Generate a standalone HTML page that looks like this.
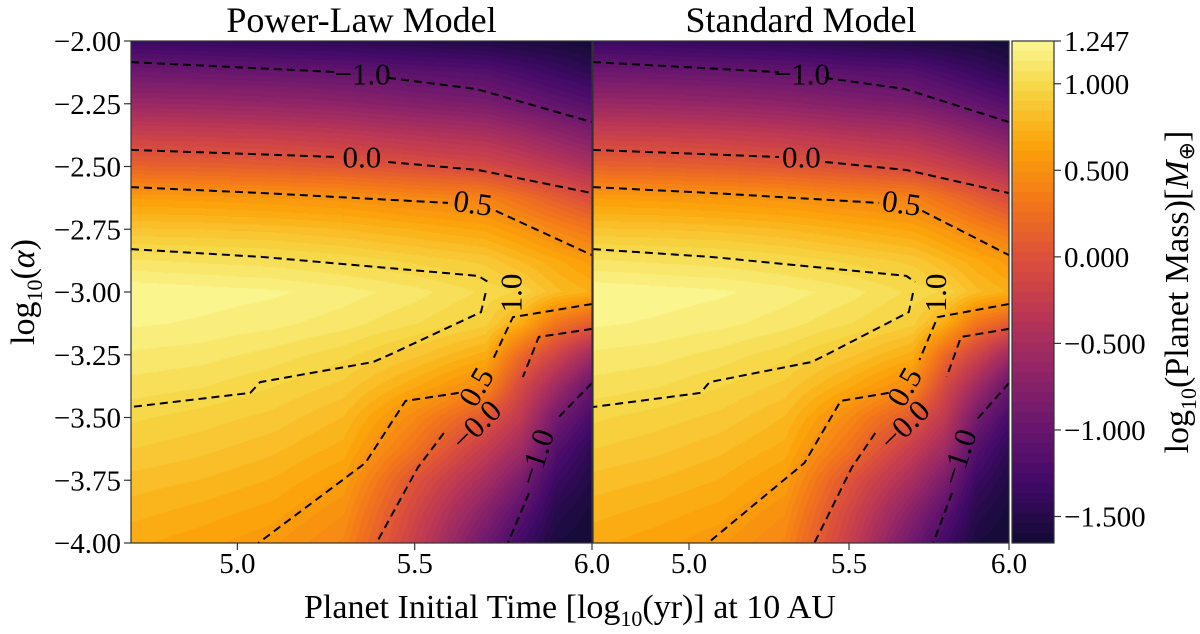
<!DOCTYPE html>
<html><head><meta charset="utf-8">
<style>
body{margin:0;background:#fff;}
#wrap{position:relative;width:1200px;height:634px;overflow:hidden;font-family:"Liberation Serif",serif;}
canvas{position:absolute;}
svg{position:absolute;left:0;top:0;}
</style></head>
<body>
<div id="wrap">
<canvas id="c1"></canvas>
<canvas id="c2"></canvas>
<canvas id="cb"></canvas>
<svg id="ov" width="1200" height="634"></svg>
</div>
<script>
// ---- data ----
const xGrid = [4.7,4.9,5.1,5.3,5.5,5.7,5.8,5.9,6.0];
const yGrid = [-2,-2.125,-2.25,-2.375,-2.5,-2.625,-2.75,-2.875,-3,-3.125,-3.25,-3.375,-3.5,-3.625,-3.75,-3.875,-4];
const colX47 = [-1.35,-0.95,-0.6,-0.2,0.15,0.6,0.85,1.08,1.24,1.2,1.12,1.05,0.97,0.9,0.82,0.75,0.68];
const colX49 = [-1.38,-0.97,-0.62,-0.22,0.13,0.58,0.84,1.06,1.22,1.18,1.1,1.02,0.93,0.86,0.78,0.7,0.63];
const colX51 = [-1.42,-1.0,-0.65,-0.25,0.1,0.55,0.82,1.04,1.2,1.15,1.05,0.96,0.88,0.8,0.72,0.64,0.56];
const colX53 = [-1.45,-1.03,-0.7,-0.3,0.05,0.52,0.78,1.0,1.16,1.1,0.98,0.88,0.78,0.7,0.6,0.5,0.42];
const colX55 = [-1.5,-1.1,-0.78,-0.38,-0.02,0.45,0.72,0.94,1.1,1.02,0.86,0.68,0.45,0.28,0.02,-0.12,-0.22];
const colX57 = [-1.55,-1.15,-0.85,-0.45,-0.1,0.4,0.65,0.88,1.0,0.92,0.7,0.45,0.05,-0.25,-0.5,-0.75,-0.95];
const colX58 = [-1.58,-1.25,-0.95,-0.55,-0.2,0.25,0.55,0.78,0.95,0.7,0.2,-0.1,-0.3,-0.55,-0.85,-1.1,-1.3];
const colX59 = [-1.6,-1.35,-1.05,-0.68,-0.32,0.1,0.42,0.68,0.8,0.3,-0.15,-0.55,-0.9,-1.15,-1.35,-1.5,-1.6];
const colX60 = [-1.65,-1.45,-1.15,-0.8,-0.45,-0.05,0.3,0.58,0.72,0.1,-0.55,-1.0,-1.25,-1.45,-1.55,-1.62,-1.65];
const xTicks = [5.0,5.5,6.0];
const xTickLabels = ["5.0","5.5","6.0"];
const yTicks = [-2,-2.25,-2.5,-2.75,-3,-3.25,-3.5,-3.75,-4];
const yTickLabels = ["\u22122.00","\u22122.25","\u22122.50","\u22122.75","\u22123.00","\u22123.25","\u22123.50","\u22123.75","\u22124.00"];
const cbTicks = [1.247,1.0,0.5,0.0,-0.5,-1.0,-1.5];
const cbTickLabels = ["1.247","1.000","0.500","0.000","\u22120.500","\u22121.000","\u22121.500"];
// contour polylines (x,y data pairs)
const cMinus1Top_a = [[4.7,-2.084],[5.281,-2.124]];
const cMinus1Top_b = [[5.425,-2.147],[5.673,-2.191],[6.0,-2.323]];
const cZeroTop_a = [[4.7,-2.434],[5.281,-2.462]];
const cZeroTop_b = [[5.425,-2.482],[5.679,-2.514],[6.0,-2.606]];
const cHalfTop_a = [[4.7,-2.582],[5.075,-2.606],[5.594,-2.645]];
const cHalfTop_b = [[5.729,-2.677],[6.0,-2.853]];
const cOneUpper = [[4.7,-2.829],[5.075,-2.861],[5.679,-2.936],[5.707,-2.960]];
const cOneLower = [[5.70,-3.004],[5.687,-3.080],[5.440,-3.243],[5.383,-3.279],[5.064,-3.359],[5.036,-3.402],[4.7,-3.458]];
const cHalfLow_a = [[6.0,-3.048],[5.777,-3.100],[5.720,-3.271]];
const cHalfLow_b = [[5.624,-3.402],[5.474,-3.434],[5.361,-3.681],[5.059,-4.0]];
const cZeroLow_a = [[6.0,-3.147],[5.850,-3.179],[5.805,-3.339]];
const cZeroLow_b = [[5.582,-3.562],[5.509,-3.699],[5.392,-4.0]];
const cMinus1Low_a = [[6.0,-3.363],[5.898,-3.510]];
const cMinus1Low_b = [[5.822,-3.801],[5.763,-4.0]];
const contourLabelText = ["\u22121.0","0.0","0.5","1.0","0.5","\u22120.0","\u22121.0"];
const contourLabelX = [5.353,5.351,5.664,5.771,5.673,5.673,5.842];
const contourLabelY = [-2.131,-2.462,-2.645,-3.004,-3.378,-3.530,-3.657];
const contourLabelAngle = [0,0,8,-90,-60,-45,-72];

// ---- helpers ----
const columns = [colX47,colX49,colX51,colX53,colX55,colX57,colX58,colX59,colX60];
const XMIN=4.7, XMAX=6.0, YMAX=-2, YMIN=-4;
const panels = [
  {id:'c1', name:'power-law', x0:131, x1:592, y0:41, y1:543, title:'Power-Law Model'},
  {id:'c2', name:'standard', x0:593, x1:1009, y0:41, y1:543, title:'Standard Model'}
];
const CB = {x0:1012, x1:1054, y0:41, y1:543, vmin:-1.653, vmax:1.247};
const NV0=-1.95, NV1=1.3;
const stops=[[0,0,0,4],[0.1,22,11,57],[0.2,66,10,104],[0.3,106,23,110],[0.4,147,38,103],[0.5,188,55,84],[0.6,221,81,58],[0.7,243,120,25],[0.8,252,165,10],[0.9,246,215,70],[1,252,255,164]];
function inferno(t){
  t=Math.max(0,Math.min(1,t));
  for(let i=1;i<stops.length;i++){ if(t<=stops[i][0]){const a=stops[i-1],b=stops[i];const f=(t-a[0])/(b[0]-a[0]);
    return [a[1]+(b[1]-a[1])*f,a[2]+(b[2]-a[2])*f,a[3]+(b[3]-a[3])*f];}}
  return stops[stops.length-1].slice(1);
}
function quant(v){const step=0.058;return Math.round(v/step)*step;}
function valueAt(x,y){
  let i=0; while(i<xGrid.length-2 && x>xGrid[i+1]) i++;
  let j=0; while(j<yGrid.length-2 && y<yGrid[j+1]) j++;
  const fx=Math.max(0,Math.min(1,(x-xGrid[i])/(xGrid[i+1]-xGrid[i])));
  const fy=Math.max(0,Math.min(1,(y-yGrid[j])/(yGrid[j+1]-yGrid[j])));
  const a=columns[i][j],b=columns[i+1][j],c=columns[i][j+1],d=columns[i+1][j+1];
  return a*(1-fx)*(1-fy)+b*fx*(1-fy)+c*(1-fx)*fy+d*fx*fy;
}
const NS='http://www.w3.org/2000/svg';
const ov=document.getElementById('ov');
function el(tag,attrs,parent){const e=document.createElementNS(NS,tag);for(const k in attrs)e.setAttribute(k,attrs[k]);(parent||ov).appendChild(e);return e;}

panels.forEach(p=>{
  const W=p.x1-p.x0,H=p.y1-p.y0;
  const xs=v=>p.x0+(v-XMIN)/(XMAX-XMIN)*W;
  const ys=v=>p.y0+(YMAX-v)/(YMAX-YMIN)*H;
  const cv=document.getElementById(p.id);
  cv.width=W;cv.height=H;cv.style.left=p.x0+'px';cv.style.top=p.y0+'px';
  const ctx=cv.getContext('2d');const img=ctx.createImageData(W,H);
  for(let py=0;py<H;py++){const yv=YMAX-(py+0.5)/H*(YMAX-YMIN);
    for(let px=0;px<W;px++){const xv=XMIN+(px+0.5)/W*(XMAX-XMIN);
      const v=quant(valueAt(xv,yv));const c=inferno((v-NV0)/(NV1-NV0));
      const k=(py*W+px)*4;img.data[k]=c[0];img.data[k+1]=c[1];img.data[k+2]=c[2];img.data[k+3]=255;}}
  ctx.putImageData(img,0,0);
  const g=el('g',{});
  
  
  const lines=[cMinus1Top_a,cMinus1Top_b,cZeroTop_a,cZeroTop_b,cHalfTop_a,cHalfTop_b,cOneUpper,cOneLower,cHalfLow_a,cHalfLow_b,cZeroLow_a,cZeroLow_b,cMinus1Low_a,cMinus1Low_b];
  lines.forEach((ln,i)=>{
    const path=el('polyline',{points:ln.map(q=>xs(q[0]).toFixed(1)+','+ys(q[1]).toFixed(1)).join(' '),fill:'none',stroke:'#000','stroke-width':2,'stroke-dasharray':'8,5'},g);
    
    
  });
  contourLabelText.forEach((t,i)=>{
    const x=xs(contourLabelX[i]),y=ys(contourLabelY[i]);
    const tx=el('text',{x:x,y:y,'font-size':31,'text-anchor':'middle','dominant-baseline':'central',transform:`rotate(${contourLabelAngle[i]} ${x} ${y})`},g);
    tx.textContent=t;
    
    
  });
  el('rect',{x:p.x0,y:p.y0,width:W,height:H,fill:'none',stroke:'#333','stroke-width':1.2},g);
  xTicks.forEach((v,i)=>{
    const x=xs(v);
    el('line',{x1:x,x2:x,y1:p.y1,y2:p.y1+7,stroke:'#333','stroke-width':1.2},g);
    const t=el('text',{x:x,y:573,'font-size':29,'text-anchor':'middle'},g);
    t.textContent=xTickLabels[i];
    
    
  });
  if(p.id==='c1'){
    yTicks.forEach((v,i)=>{
      const y=ys(v);
      el('line',{x1:p.x0-7,x2:p.x0,y1:y,y2:y,stroke:'#333','stroke-width':1.2},g);
      const t=el('text',{x:121,y:y+10,'font-size':29,'text-anchor':'end'},g);
      t.textContent=yTickLabels[i];
      
      
    });
  }
  const tt=el('text',{x:(p.x0+p.x1)/2,y:32,'font-size':36,'text-anchor':'middle'},g);
  tt.textContent=p.title;
  
  
});

// colorbar
(function(){
  const W=CB.x1-CB.x0,H=CB.y1-CB.y0;
  const cys=v=>CB.y0+(CB.vmax-v)/(CB.vmax-CB.vmin)*H;
  const cv=document.getElementById('cb');cv.width=W;cv.height=H;cv.style.left=CB.x0+'px';cv.style.top=CB.y0+'px';
  const ctx=cv.getContext('2d');
  for(let py=0;py<H;py++){const v=quant(CB.vmax-(py+0.5)/H*(CB.vmax-CB.vmin));const c=inferno((v-NV0)/(NV1-NV0));
    ctx.fillStyle=`rgb(${c[0]|0},${c[1]|0},${c[2]|0})`;ctx.fillRect(0,py,W,1);}
  el('rect',{x:CB.x0,y:CB.y0,width:W,height:H,fill:'none',stroke:'#333','stroke-width':1.2});
  cbTicks.forEach((v,i)=>{
    const y=cys(v);
    el('line',{x1:CB.x1,x2:CB.x1+7,y1:y,y2:y,stroke:'#333','stroke-width':1.2});
    const t=el('text',{x:1064,y:y+10,'font-size':29});
    t.textContent=cbTickLabels[i];
    
    
  });
})();

// axis titles
let t=el('text',{x:570,y:618,'font-size':34,'text-anchor':'middle'});
t.innerHTML='Planet Initial Time [log<tspan font-size="22" dy="8">10</tspan><tspan dy="-8">(yr)] at 10 AU</tspan>';


t=el('text',{x:0,y:0,'font-size':34,'text-anchor':'middle',transform:'translate(34,292) rotate(-90)'});
t.innerHTML='log<tspan font-size="22" dy="8">10</tspan><tspan dy="-8">(</tspan><tspan font-style="italic">α</tspan>)';


t=el('text',{x:0,y:0,'font-size':34,'text-anchor':'middle',transform:'translate(1188,292) rotate(-90)'});
t.innerHTML='log<tspan font-size="22" dy="8">10</tspan><tspan dy="-8">(Planet Mass)[</tspan><tspan font-style="italic">M</tspan><tspan font-size="22" dy="6">⊕</tspan><tspan dy="-6">]</tspan>';


</script>
</body></html>
